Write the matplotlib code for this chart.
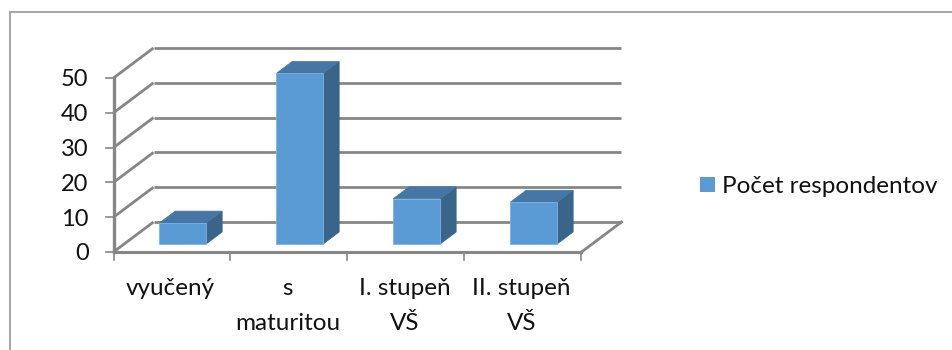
import matplotlib
matplotlib.use('Agg')
import matplotlib.pyplot as plt
from matplotlib.patches import Polygon, Rectangle

categories = ['vyučený', 's\nmaturitou', 'I. stupeň\nVŠ', 'II. stupeň\nVŠ']
values = [6, 49, 13, 12]
yticks = [0, 10, 20, 30, 40, 50]
legend_label = 'Počet respondentov'

W, H = 952, 350
FRONT = '#5b9bd5'
TOP = '#4676a3'
SIDE = '#3a658b'
GRID = '#868686'
TEXT = '#111111'

plt.rcParams['font.family'] = ['Lato', 'DejaVu Sans']

fig = plt.figure(figsize=(W / 100, H / 100), dpi=100)

# outer chart frame
fig.add_artist(Rectangle((10 / W, -0.1), 1.1, 1.1 - 11.5 / H, transform=fig.transFigure,
                         fill=False, ec='#a9a9a9', lw=1.5))

# front plane of the fake 3d box: x in categories, y in respondents
ax = fig.add_axes([113.5 / W, 1 - 252 / H, 468 / W, 174 / H])
ax.set_xlim(0, len(categories))
ax.set_ylim(0, 50)
ax.axis('off')

px_x = len(categories) / 468
px_y = 50 / 174
depth_x = 40 * px_x
depth_y = 30 * px_y


def shift(f):
    return f * depth_x, f * depth_y


def box(pos, val):
    bw = 47 * px_x
    dx0, dy0 = shift(8 / 30)
    dx1, dy1 = shift(20 / 30)
    left = pos + 0.5 - bw / 2 + dx0
    right = left + bw
    # value is measured from the floor of the box
    top = val + dy0
    d_x, d_y = dx1 - dx0, dy1 - dy0
    ax.add_patch(Polygon([(right, dy0), (right + d_x, dy0 + d_y), (right + d_x, top + d_y), (right, top)],
                         fc=SIDE, ec=SIDE, lw=0.5, zorder=3, clip_on=False))
    ax.add_patch(Polygon([(left, top), (right, top), (right + d_x, top + d_y), (left + d_x, top + d_y)],
                         fc=TOP, ec=TOP, lw=0.5, zorder=3, clip_on=False))
    ax.add_patch(Rectangle((left, dy0), bw, val, fc=FRONT, ec='#7fb2e0', lw=0.6, zorder=4, clip_on=False))


n = len(categories)
grid_kw = dict(color=GRID, lw=2.0, solid_capstyle='butt', clip_on=False, zorder=1)
for t in yticks:
    # diagonal on the left wall and line along the back wall
    ax.plot([0, depth_x], [t, t + depth_y], **grid_kw)
    ax.plot([depth_x, n + depth_x], [t + depth_y, t + depth_y], **grid_kw)
    ax.plot([-8 * px_x, 0], [t, t], color=GRID, lw=1.2, clip_on=False, zorder=2)
    ax.text(-25 * px_x, t - 2 * px_y, str(t), ha='right', va='center', fontsize=17, color=TEXT)

# floor and axes
ax.plot([0, n], [0, 0], color=GRID, lw=2.2, clip_on=False, zorder=2)
ax.plot([n, n + depth_x], [0, depth_y], color=GRID, lw=2.0, clip_on=False, zorder=2)
ax.plot([0, 0], [0, 50], color=GRID, lw=2.4, clip_on=False, zorder=2)

for i in range(n + 1):
    ax.plot([i, i], [0, -8 * px_y], color=GRID, lw=1.2, clip_on=False, zorder=2)

for i, (c, v) in enumerate(zip(categories, values)):
    box(i, v)
    ax.text(i + 0.5 - 1.5 * px_x, -26 * px_y, c, ha='center', va='top', fontsize=17.5, color=TEXT, linespacing=1.8)

# legend entry
fig.add_artist(Rectangle((700 / W, 1 - 192 / H), 15 / W, 15 / H, fc=FRONT, ec='none', transform=fig.transFigure))
fig.text(722 / W, 1 - 186 / H, legend_label, ha='left', va='center', fontsize=17.5, color=TEXT)

fig.savefig('out.png', dpi=100)
